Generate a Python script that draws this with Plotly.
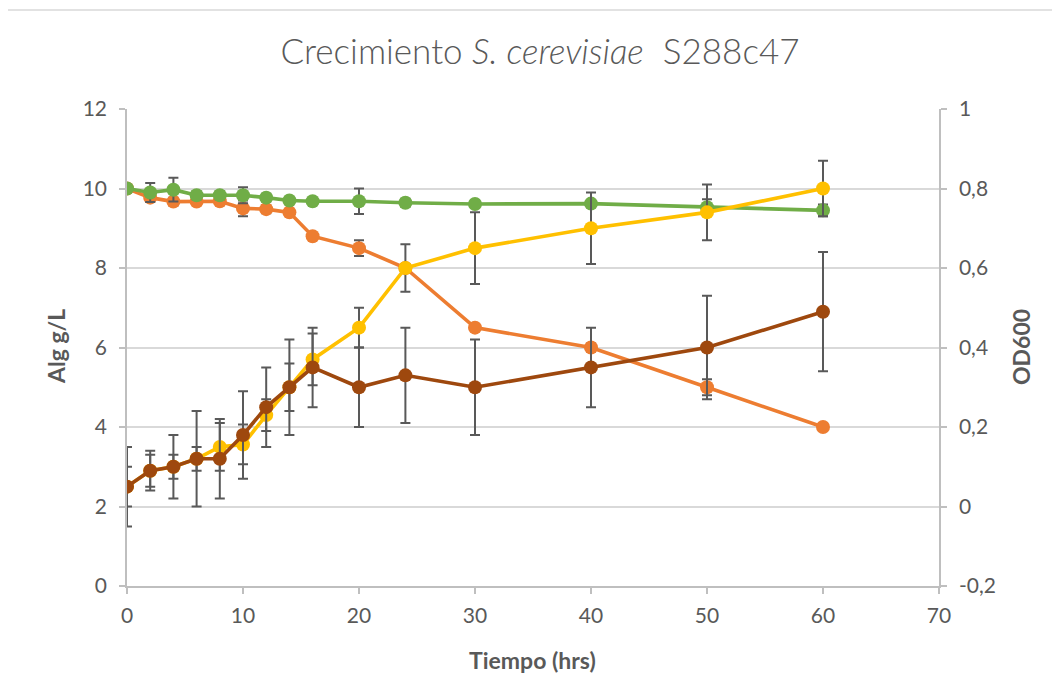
import plotly.graph_objects as go

# Data
tiempo = [0, 2, 4, 6, 8, 10, 12, 14, 16, 20, 24, 30, 40, 50, 60]

alg_verde = [10.0, 9.9, 9.97, 9.83, 9.83, 9.83, 9.77, 9.7, 9.68, 9.68, 9.64, 9.61, 9.62, 9.53, 9.45]
err_verde = [0.05, 0.24, 0.3, 0.1, 0.1, 0.2, 0.1, 0.05, 0.05, 0.32, 0.1, 0.05, 0.05, 0.2, 0.15]

alg_naranja = [10.0, 9.77, 9.67, 9.67, 9.68, 9.5, 9.48, 9.4, 8.8, 8.5, 8.0, 6.5, 6.0, 5.0, 4.0]
err_naranja = [0.05, 0.1, 0.1, 0.05, 0.05, 0.2, 0.1, 0.05, 0.05, 0.2, 0.1, 0.05, 0.1, 0.2, 0.05]

od_amarillo = [0.05, 0.09, 0.1, 0.12, 0.15, 0.156, 0.23, 0.3, 0.37, 0.45, 0.6, 0.65, 0.7, 0.74, 0.8]
err_amarillo = [0.05, 0.04, 0.03, 0.03, 0.06, 0.05, 0.04, 0.06, 0.065, 0.05, 0.06, 0.09, 0.09, 0.07, 0.07]

od_marron = [0.05, 0.09, 0.1, 0.12, 0.12, 0.18, 0.25, 0.3, 0.35, 0.3, 0.33, 0.3, 0.35, 0.4, 0.49]
err_marron = [0.1, 0.05, 0.08, 0.12, 0.1, 0.11, 0.1, 0.12, 0.1, 0.1, 0.12, 0.12, 0.1, 0.13, 0.15]

x_ticks = [0, 10, 20, 30, 40, 50, 60, 70]
y_ticks = [0, 2, 4, 6, 8, 10, 12]
y2_ticks = [-0.2, 0, 0.2, 0.4, 0.6, 0.8, 1]
y2_labels = ["-0,2", "0", "0,2", "0,4", "0,6", "0,8", "1"]

FONT = "Lato, 'Open Sans', sans-serif"
TXT = "#595959"
AX = "#BFBFBF"
GRID = "#D9D9D9"
ERR = "#595959"
TICK_SIZE = 21
AXT_SIZE = 23

# page offset (browser body margin)
OFF = 8
PL, PR, PT, PB = 127, 939, 109, 586  # plot area in screen px
PW, PH = PR - PL, PB - PT

fig = go.Figure()

def add(y, err, color, yaxis):
    fig.add_trace(go.Scatter(
        x=tiempo, y=y, yaxis=yaxis, mode="lines+markers",
        line=dict(color=color, width=3.6),
        marker=dict(color=color, size=14),
        error_y=dict(type="data", array=err, visible=True, color=ERR, thickness=2, width=5),
        showlegend=False,
    ))

add(alg_naranja, err_naranja, "#ED7D31", "y")
add(alg_verde, err_verde, "#70AD47", "y")
add(od_amarillo, err_amarillo, "#FFC000", "y2")
add(od_marron, err_marron, "#9E480E", "y2")

fig.update_layout(
    width=1060, height=697,
    paper_bgcolor="white", plot_bgcolor="white",
    margin=dict(l=PL - OFF, r=1060 - (PR - OFF), t=PT - OFF, b=697 - (PB - OFF)),
    font=dict(family=FONT, color=TXT, size=TICK_SIZE),
    title=dict(text="Crecimiento <i>S. cerevisiae</i>  S288c47", x=(540 - OFF) / 1060, xanchor="center",
               y=1 - (52 - OFF) / 697, yanchor="middle",
               font=dict(family=FONT, size=35, color=TXT, weight=300)),
    xaxis=dict(range=[0, 70], tickvals=x_ticks, showgrid=False, zeroline=False,
               showline=True, linecolor=AX, linewidth=1.5, ticks="outside", ticklen=6,
               tickcolor=AX, tickwidth=1.5, ticklabelstandoff=4,
               tickfont=dict(size=TICK_SIZE, color=TXT)),
    yaxis=dict(range=[0, 12], tickvals=y_ticks, showgrid=True, gridcolor=GRID, gridwidth=1.5,
               zeroline=False, showline=True, linecolor=AX, linewidth=1.5, ticks="outside",
               ticklen=6, tickcolor=AX, tickwidth=1.5, ticklabelstandoff=8,
               tickfont=dict(size=TICK_SIZE, color=TXT)),
    yaxis2=dict(range=[-0.2, 1], tickvals=y2_ticks, ticktext=y2_labels, overlaying="y", side="right",
                showgrid=False, zeroline=False, showline=True, linecolor=AX, linewidth=1.5,
                ticks="outside", ticklen=6, tickcolor=AX, tickwidth=1.5, ticklabelstandoff=8,
                tickfont=dict(size=TICK_SIZE, color=TXT)),
)

def px_x(x):
    return (x - PL) / PW

def px_y(y):
    return (PB - y) / PH

fig.add_annotation(text="<b>Tiempo (hrs)</b>", xref="paper", yref="paper",
                   x=px_x(532), y=px_y(660), showarrow=False,
                   font=dict(size=AXT_SIZE, color=TXT, family=FONT), xanchor="center", yanchor="middle")
fig.add_annotation(text="<b>Alg g/L</b>", xref="paper", yref="paper",
                   x=px_x(56), y=px_y(347), showarrow=False, textangle=-90,
                   font=dict(size=AXT_SIZE, color=TXT, family=FONT), xanchor="center", yanchor="middle")
fig.add_annotation(text="<b>OD600</b>", xref="paper", yref="paper",
                   x=px_x(1021), y=px_y(347), showarrow=False, textangle=-90,
                   font=dict(size=AXT_SIZE, color=TXT, family=FONT), xanchor="center", yanchor="middle")

# Chart-area border
fig.add_shape(type="rect", xref="paper", yref="paper",
              x0=px_x(7), x1=px_x(1075), y0=px_y(720), y1=px_y(10),
              line=dict(color=GRID, width=1.5), fillcolor="rgba(0,0,0,0)", layer="below")

fig.write_html("out.html")
